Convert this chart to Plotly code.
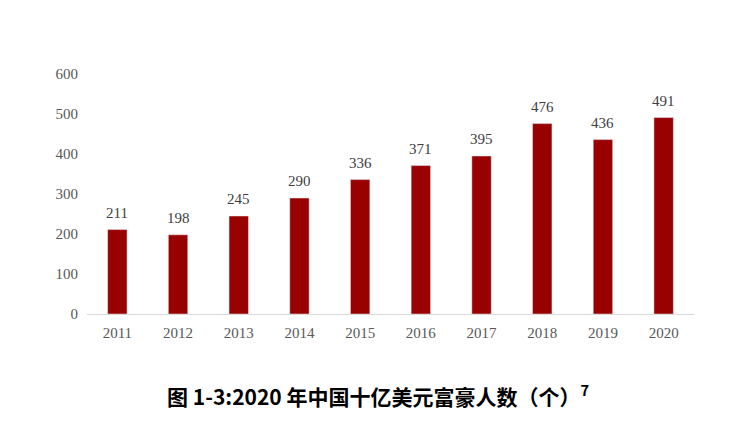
import plotly.graph_objects as go

years = ["2011", "2012", "2013", "2014", "2015", "2016", "2017", "2018", "2019", "2020"]
counts = [211, 198, 245, 290, 336, 371, 395, 476, 436, 491]
y_ticks = [0, 100, 200, 300, 400, 500, 600]
title_text = "图 1-3:2020 年中国十亿美元富豪人数（个）<sup>7</sup>"

fig = go.Figure(go.Bar(
    x=years, y=counts,
    marker=dict(color="#990000"),
    width=0.32,
))

label_annotations = [
    dict(x=i, y=v, xref="x", yref="y", text=str(v), showarrow=False,
         yanchor="bottom", yshift=7,
         font=dict(family="Liberation Serif", size=15, color="#404040"))
    for i, v in enumerate(counts)
]

fig.update_layout(
    width=729, height=444,
    margin=dict(l=79, r=43, t=66, b=138),
    paper_bgcolor="white", plot_bgcolor="white",
    showlegend=False,
    xaxis=dict(
        type="category", range=[-0.5, len(years) - 0.5],
        showline=True, linecolor="#d9d9d9", linewidth=1,
        ticks="", ticklabelstandoff=5,
        tickfont=dict(family="Liberation Serif", size=15, color="#595959"),
        showgrid=False,
    ),
    yaxis=dict(
        range=[0, 600], tickvals=y_ticks,
        showgrid=False, zeroline=False, showline=False,
        ticks="", ticklabelstandoff=8,
        tickfont=dict(family="Liberation Serif", size=15, color="#595959"),
    ),
    annotations=label_annotations + [dict(
        text=title_text, xref="paper", yref="paper",
        x=0.48, y=-0.3375, xanchor="center", yanchor="middle",
        showarrow=False,
        font=dict(family="Noto Sans CJK SC", size=21, color="black", weight="bold"),
    )],
)

fig.write_html("out.html")
